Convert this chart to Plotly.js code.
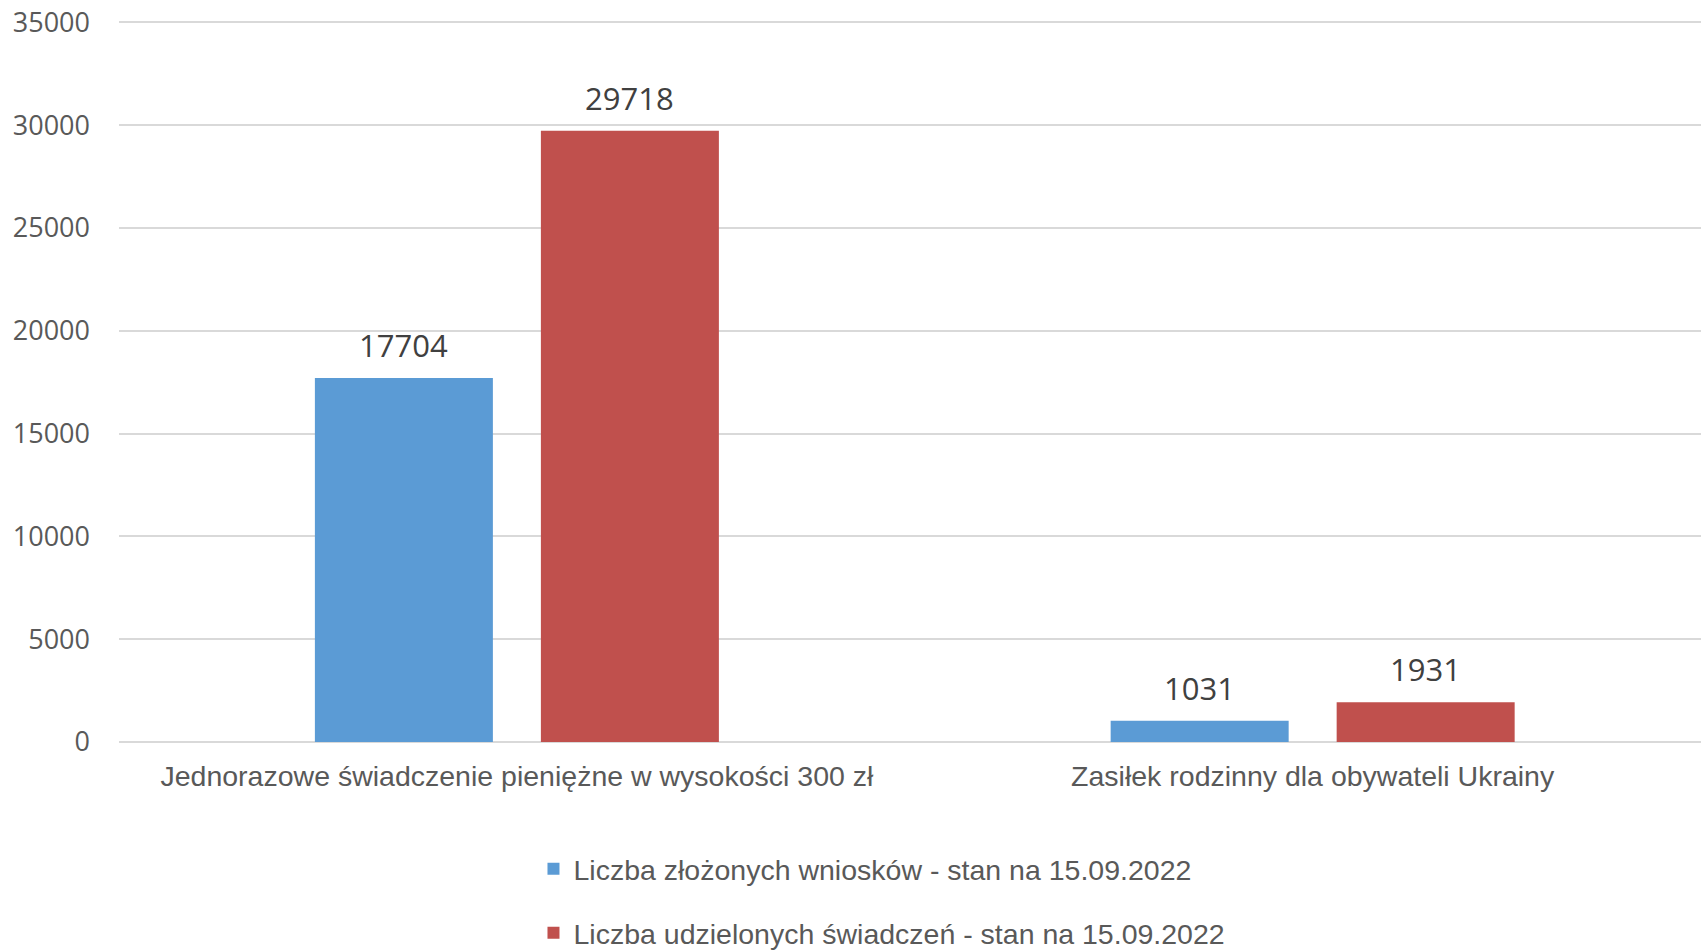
<!DOCTYPE html>
<html>
<head>
<meta charset="utf-8">
<script src="https://cdn.plot.ly/plotly-3.0.1.min.js"></script>
<style>html,body{margin:0;padding:0;background:#fff;}#chart{width:1701px;height:950px;}</style>
</head>
<body>
<div id="chart"></div>
<script>
const categories = [
  "Jednorazowe świadczenie pieniężne w wysokości 300 zł",
  "Zasiłek rodzinny dla obywateli Ukrainy"
];
const seriesNames = [
  "Liczba złożonych wniosków - stan na 15.09.2022",
  "Liczba udzielonych świadczeń - stan na 15.09.2022"
];
const wnioski = [17704, 1031];
const swiadczenia = [29718, 1931];
const yTicks = [0, 5000, 10000, 15000, 20000, 25000, 30000, 35000];

const colors = ["#5B9BD5", "#C0504D"];
const allSeries = [wnioski, swiadczenia];

const traces = allSeries.map((vals, i) => ({
  type: "bar",
  name: seriesNames[i],
  x: categories,
  y: vals,
  marker: { color: colors[i] },
  legendgroup: "g" + i,
  hoverinfo: "x+y"
}));

const shifts = [-113, 113];
const annotations = [];
allSeries.forEach((vals, i) => {
  vals.forEach((v, j) => {
    annotations.push({
      x: categories[j], y: v, xref: "x", yref: "y",
      text: String(v), showarrow: false,
      xanchor: "center", yanchor: "bottom",
      xshift: shifts[i], yshift: 10,
      font: { family: "Open Sans, sans-serif", size: 31, color: "#404040" }
    });
  });
});

const layout = {
  width: 1701, height: 950,
  margin: { l: 119, r: 0, t: 21, b: 208, autoexpand: false },
  paper_bgcolor: "#fff", plot_bgcolor: "#fff",
  barmode: "group",
  bargap: 0.432,
  bargroupgap: 0.2124,
  showlegend: true,
  legend: {
    orientation: "v",
    x: 0.262, xanchor: "left",
    yref: "container",
    y: 0.112, yanchor: "top",
    tracegroupgap: 24,
    font: { family: "Liberation Sans, Arial, sans-serif", size: 28.5, color: "#595959" },
    bgcolor: "rgba(0,0,0,0)"
  },
  xaxis: {
    type: "category",
    range: [-0.5, 1.488],
    showgrid: false, showline: false, zeroline: false,
    ticks: "",
    ticklabelstandoff: 14,
    tickfont: { family: "Liberation Sans, Arial, sans-serif", size: 28.5, color: "#595959" }
  },
  yaxis: {
    range: [0, 35060],
    tickvals: yTicks,
    ticktext: yTicks.map(String),
    showgrid: true, gridcolor: "#d9d9d9", gridwidth: 2,
    zeroline: true, zerolinecolor: "#d9d9d9", zerolinewidth: 2,
    showline: false, ticks: "",
    ticklabelstandoff: 28,
    tickfont: { family: "Open Sans, sans-serif", size: 27, color: "#595959" }
  },
  annotations: annotations
};

Plotly.newPlot("chart", traces, layout, { displayModeBar: false, staticPlot: true });
</script>
</body>
</html>
